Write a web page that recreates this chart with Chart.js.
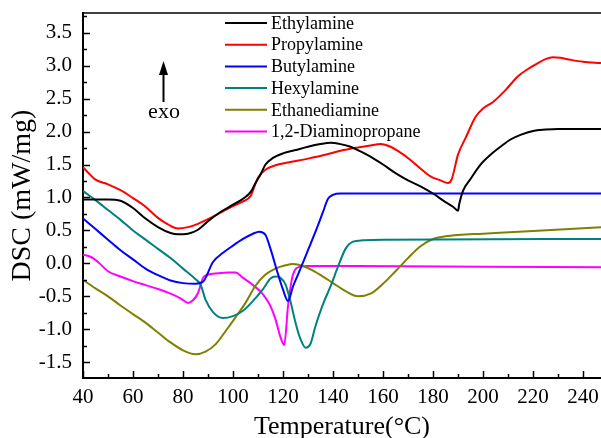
<!DOCTYPE html>
<html>
<head>
<meta charset="utf-8">
<script src="https://cdn.jsdelivr.net/npm/chart.js@4.4.1/dist/chart.umd.min.js"></script>
<style>
html,body{margin:0;padding:0;background:#fff;}
#wrap{width:601px;height:438px;position:relative;}
</style>
</head>
<body>
<div id="wrap"><canvas id="c" width="601" height="438"></canvas></div>
<script>
// ---- Data ----
const seriesNames = ["Ethylamine","Propylamine","Butylamine","Hexylamine","Ethanediamine","1,2-Diaminopropane"];
const seriesColors = ["#000000","#ff0000","#0000ff","#008080","#808000","#ff00ff"];

const ethylT = [40,45,50,55,60,65,70,75,78,82,86,90,95,100,104,107,109,111,113,116,120,125,130,135,139,143,147,151,155,160,165,170,175,180,185,188,190,190.5,192,195,199,203,207,211,215,220,225,230,247.2];
const ethylV = [0.97,0.97,0.97,0.95,0.84,0.68,0.55,0.46,0.44,0.45,0.51,0.64,0.78,0.89,0.98,1.08,1.22,1.35,1.50,1.60,1.67,1.72,1.77,1.81,1.83,1.81,1.77,1.70,1.62,1.50,1.37,1.26,1.17,1.06,0.93,0.86,0.80,0.90,1.10,1.28,1.50,1.65,1.77,1.88,1.95,2.01,2.03,2.04,2.04];

const propylT = [40,42,45,50,55,60,65,70,74,78,82,86,90,95,100,104,107,110,113,117,122,130,136,143,150,155,159,163,167,171,175,179,183,186,187.5,190,193,197,200,204,209,214,218,222,225,228,231,235,240,247.2];
const propylV = [1.46,1.38,1.27,1.20,1.11,0.99,0.86,0.69,0.59,0.53,0.55,0.60,0.67,0.77,0.87,0.94,1.02,1.30,1.42,1.49,1.53,1.59,1.64,1.71,1.76,1.79,1.81,1.77,1.68,1.57,1.44,1.32,1.26,1.22,1.28,1.65,1.90,2.22,2.35,2.45,2.63,2.84,2.95,3.04,3.10,3.13,3.12,3.09,3.06,3.04];

const butylT = [40,45,50,55,60,65,70,75,80,85,88,92,96,100,104,108,110.5,113,115,117.5,120,122,124,127,130,133,136,138,140,143,247.2];
const butylV = [0.68,0.52,0.36,0.20,0.06,-0.08,-0.18,-0.26,-0.30,-0.31,-0.28,0.02,0.16,0.27,0.37,0.45,0.48,0.43,0.22,-0.10,-0.40,-0.57,-0.35,-0.08,0.20,0.48,0.78,0.98,1.04,1.06,1.06];

const hexylT = [40,45,50,55,60,65,70,75,80,85,87,89,92,96,100,104,108,112,115,117,119,121,123,125,127,129,131,133,136,139,142,145,148,152,160,247.2];
const hexylV = [1.10,0.96,0.81,0.66,0.50,0.36,0.22,0.08,-0.08,-0.24,-0.32,-0.55,-0.74,-0.83,-0.80,-0.72,-0.57,-0.39,-0.23,-0.20,-0.22,-0.32,-0.58,-0.90,-1.15,-1.28,-1.22,-0.95,-0.62,-0.35,-0.05,0.22,0.33,0.35,0.36,0.37];

const ethaneT = [40,45,50,55,60,65,70,75,80,85,89,93,97,101,105,109,113,117,121,124,128,132,136,140,145,150,155,160,165,170,175,180,185,190,200,220,247.2];
const ethaneV = [-0.25,-0.38,-0.50,-0.64,-0.77,-0.90,-1.05,-1.20,-1.32,-1.38,-1.34,-1.23,-1.03,-0.82,-0.60,-0.34,-0.17,-0.08,-0.03,-0.01,-0.04,-0.11,-0.20,-0.30,-0.42,-0.50,-0.46,-0.31,-0.12,0.08,0.26,0.37,0.41,0.43,0.45,0.49,0.55];

const diamT = [40,43,46,50,55,60,65,70,75,79,82,84,86,88,90,94,98,101,104,108,112,115,117,119,120.5,122,124,127,130,150,200,247.2];
const diamV = [0.13,0.10,0.02,-0.12,-0.20,-0.27,-0.33,-0.39,-0.46,-0.53,-0.60,-0.56,-0.45,-0.22,-0.17,-0.15,-0.14,-0.14,-0.22,-0.33,-0.47,-0.65,-0.85,-1.12,-1.24,-0.65,-0.17,-0.05,-0.04,-0.04,-0.05,-0.06];

const xTicks = [40,60,80,100,120,140,160,180,200,220,240];
const yTicks = [-1.5,-1.0,-0.5,0.0,0.5,1.0,1.5,2.0,2.5,3.0,3.5];
const xTitle = "Temperature(\u00B0C)";
const yTitle = "DSC (mW/mg)";
const exoLabel = "exo";

// ---- Build chart ----
const allT = [ethylT, propylT, butylT, hexylT, ethaneT, diamT];
const allV = [ethylV, propylV, butylV, hexylV, ethaneV, diamV];
const datasets = seriesNames.map((name, k) => ({
  label: name,
  data: allT[k].map((t, i) => ({x: t, y: allV[k][i]})),
  borderColor: seriesColors[k],
  backgroundColor: seriesColors[k],
  borderWidth: 2,
  pointRadius: 0,
  showLine: true,
  cubicInterpolationMode: 'monotone',
  fill: false
}));

const SERIF = "'Liberation Serif', 'Times New Roman', serif";

const decor = {
  id: 'decor',
  afterDraw(chart) {
    const {ctx, chartArea: a, scales: {x, y}} = chart;
    ctx.save();
    ctx.strokeStyle = '#000';
    ctx.lineWidth = 1.5;
    ctx.beginPath();
    ctx.moveTo(a.left, a.top); ctx.lineTo(a.right, a.top);
    ctx.stroke();
    // inward ticks
    const xStep = (xTicks[1] - xTicks[0]) / 2;
    for (let t = xTicks[0]; t <= x.max + 1e-9; t += xStep) {
      const px = Math.round(x.getPixelForValue(t)) + 0.5;
      const major = xTicks.some(v => Math.abs(v - t) < 1e-6);
      const len = major ? 7 : 4;
      ctx.beginPath(); ctx.moveTo(px, a.bottom); ctx.lineTo(px, a.bottom - len); ctx.stroke();
    }
    const yStep = (yTicks[1] - yTicks[0]) / 2;
    for (let v = yTicks[0]; v <= y.max + 1e-9; v += yStep) {
      const py = Math.round(y.getPixelForValue(v)) + 0.5;
      const major = yTicks.some(w => Math.abs(w - v) < 1e-6);
      const len = major ? 7 : 4;
      ctx.beginPath(); ctx.moveTo(a.left, py); ctx.lineTo(a.left + len, py); ctx.stroke();
    }
    // legend
    ctx.font = "18px " + SERIF;
    ctx.textBaseline = 'middle';
    ctx.textAlign = 'left';
    chart.data.datasets.forEach((ds, i) => {
      const yy = 23 + i * 21.7;
      ctx.strokeStyle = ds.borderColor;
      ctx.lineWidth = 2;
      ctx.beginPath(); ctx.moveTo(225, yy); ctx.lineTo(267, yy); ctx.stroke();
      ctx.fillStyle = '#000';
      ctx.fillText(ds.label, 271, yy + 1);
    });
    // exo arrow
    ctx.strokeStyle = '#000';
    ctx.fillStyle = '#000';
    ctx.lineWidth = 2;
    ctx.beginPath(); ctx.moveTo(163.5, 102); ctx.lineTo(163.5, 72); ctx.stroke();
    ctx.beginPath(); ctx.moveTo(163.5, 61); ctx.lineTo(159, 75); ctx.lineTo(168, 75); ctx.closePath(); ctx.fill();
    ctx.font = "22px " + SERIF;
    ctx.textAlign = 'center';
    ctx.fillText(exoLabel, 164, 112);
    ctx.restore();
  }
};

function zeroPad(s) { s.paddingTop = 0; s.paddingBottom = 0; s.paddingLeft = 0; s.paddingRight = 0; }

new Chart(document.getElementById('c'), {
  type: 'scatter',
  data: {datasets},
  options: {
    responsive: false,
    animation: false,
    devicePixelRatio: 1,
    layout: {padding: {top: 13, right: 0, left: 0, bottom: 0}},
    plugins: {legend: {display: false}, tooltip: {enabled: false}},
    scales: {
      x: {
        type: 'linear',
        min: 40, max: 247.2,
        afterBuildTicks: s => { s.ticks = xTicks.map(v => ({value: v})); },
        afterFit: s => { s.height = 60; zeroPad(s); },
        grid: {display: true, drawOnChartArea: false, drawTicks: false},
        border: {display: true, color: '#000', width: 2},
        ticks: {color: '#000', font: {family: SERIF, size: 21}, padding: 7, maxRotation: 0, autoSkip: false,
                callback: v => String(v)},
        title: {display: true, text: xTitle, color: '#000', font: {family: SERIF, size: 26}, padding: {top: 0, bottom: -5}}
      },
      y: {
        type: 'linear',
        min: -1.74, max: 3.8,
        afterBuildTicks: s => { s.ticks = yTicks.map(v => ({value: v})); },
        afterFit: s => { s.width = 83; zeroPad(s); },
        grid: {display: true, drawOnChartArea: false, drawTicks: false},
        border: {display: true, color: '#000', width: 2},
        ticks: {color: '#000', font: {family: SERIF, size: 21}, padding: 11, autoSkip: false,
                callback: v => Number(v).toFixed(1)},
        title: {display: true, text: yTitle, color: '#000', font: {family: SERIF, size: 28}, padding: {top: 6, bottom: 0}}
      }
    }
  },
  plugins: [decor]
});
</script>
</body>
</html>
